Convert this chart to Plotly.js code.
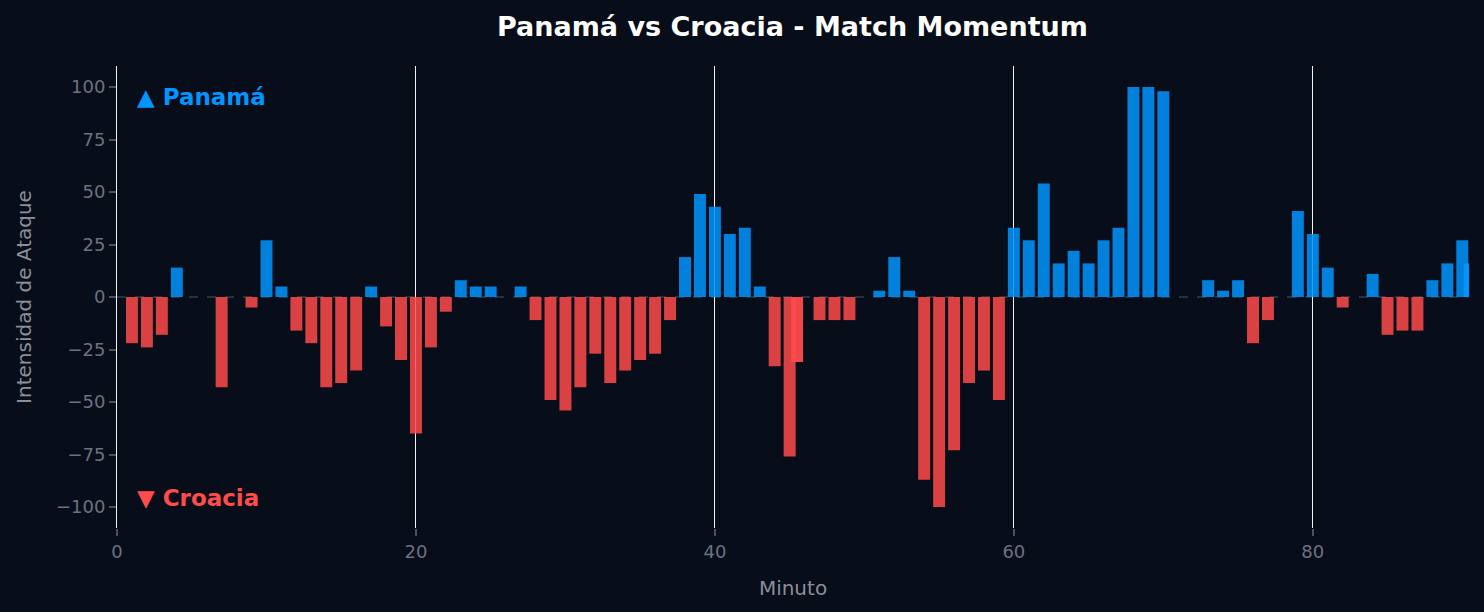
<!DOCTYPE html>
<html>
<head>
<meta charset="utf-8">
<script src="https://cdn.plot.ly/plotly-3.0.1.min.js"></script>
<style>
  html, body { margin: 0; padding: 0; background: #070d19; }
  #graph { width: 1484px; height: 612px; }
</style>
</head>
<body>
<div id="graph"></div>
<script>
// minuto a minuto (0 = sin barra)
let minutes = [];
for (let i = 1; i <= 90; i++) minutes.push(i);

let momentum = [
  -22, -24, -18, 14, 0, 0, -43, 0, -5, 27,
  5, -16, -22, -43, -41, -35, 5, -14, -30, -65,
  -24, -7, 8, 5, 5, 0, 5, -11, -49, -54,
  -43, -27, -41, -35, -30, -27, -11, 19, 49, 43,
  30, 33, 5, -33, -76, 0, -11, -11, -11, 0,
  3, 19, 3, -87, -100, -73, -41, -35, -49, 33,
  27, 54, 16, 22, 16, 27, 33, 100, 100, 98,
  0, 0, 8, 3, 8, -22, -11, 0, 41, 30,
  14, -5, 0, 11, -18, -16, -16, 8, 16, 27
];

// tiempo de descuento
let extraMinutes = [45.5, 90.5];
let extraMomentum = [-31, 16];

let blue = '#0095ff';
let red = '#ff4b4b';

var colorFor = function(v, alpha){
  return v >= 0 ? 'rgba(0,149,255,' + alpha + ')' : 'rgba(255,75,75,' + alpha + ')';
};

var trace = {
  x: minutes,
  y: momentum,
  type: 'bar',
  width: 0.8,
  marker: { color: momentum.map(v => colorFor(v, 0.85)), line: { width: 0 } },
  hoverinfo: 'x+y'
};

var traceExtra = {
  x: extraMinutes,
  y: extraMomentum,
  type: 'bar',
  width: 0.8,
  marker: { color: extraMomentum.map(v => colorFor(v, 0.95)), line: { width: 0 } },
  hoverinfo: 'x+y'
};

var data = [trace, traceExtra];

var layout = {
  width: 1484,
  height: 612,
  paper_bgcolor: '#070d19',
  plot_bgcolor: '#070d19',
  showlegend: false,
  barmode: 'overlay',
  margin: { l: 117, r: 15, t: 66, b: 84 },
  font: { family: 'DejaVu Sans', color: '#6b7280', size: 18 },
  title: {
    text: '<b>Panamá vs Croacia - Match Momentum</b>',
    font: { family: 'DejaVu Sans', size: 27, color: '#ffffff' },
    x: 0.534, xanchor: 'center',
    y: 0.957, yanchor: 'middle'
  },
  xaxis: {
    range: [0, 90.45],
    tickvals: [0, 20, 40, 60, 80],
    showgrid: true,
    gridcolor: 'rgba(255,255,255,0.95)',
    gridwidth: 1,
    zeroline: false,
    showline: false,
    ticks: 'outside',
    ticklen: 7,
    tickwidth: 2,
    tickcolor: '#4b5060',
    tickfont: { size: 18, color: '#6b7280' },
    title: { text: 'Minuto', font: { size: 20, color: '#8a8f99' }, standoff: 20 }
  },
  yaxis: {
    range: [-110, 110],
    tickvals: [-100, -75, -50, -25, 0, 25, 50, 75, 100],
    ticktext: ['\u2212100', '\u221275', '\u221250', '\u221225', '0', '25', '50', '75', '100'],
    showgrid: false,
    zeroline: false,
    showline: true,
    linecolor: 'rgba(255,255,255,0.95)',
    linewidth: 1,
    ticks: 'outside',
    ticklen: 7,
    tickwidth: 2,
    tickcolor: '#4b5060',
    tickfont: { size: 18, color: '#6b7280' },
    title: { text: 'Intensidad de Ataque', font: { size: 20, color: '#8a8f99' }, standoff: 18 }
  },
  shapes: [{
    type: 'line', xref: 'paper', yref: 'y',
    x0: 0, x1: 1, y0: 0, y1: 0,
    line: { color: '#4b5563', width: 1, dash: 'dash' },
    layer: 'below'
  }],
  annotations: [
    {
      text: '<b>\u25B2 Panamá</b>', xref: 'paper', yref: 'paper',
      x: 0.0135, y: 0.933, xanchor: 'left', yanchor: 'middle',
      showarrow: false, font: { size: 23, color: blue }
    },
    {
      text: '<b>\u25BC Croacia</b>', xref: 'paper', yref: 'paper',
      x: 0.0135, y: 0.065, xanchor: 'left', yanchor: 'middle',
      showarrow: false, font: { size: 23, color: red }
    }
  ]
};

Plotly.newPlot('graph', data, layout, { displayModeBar: false });
</script>
</body>
</html>
